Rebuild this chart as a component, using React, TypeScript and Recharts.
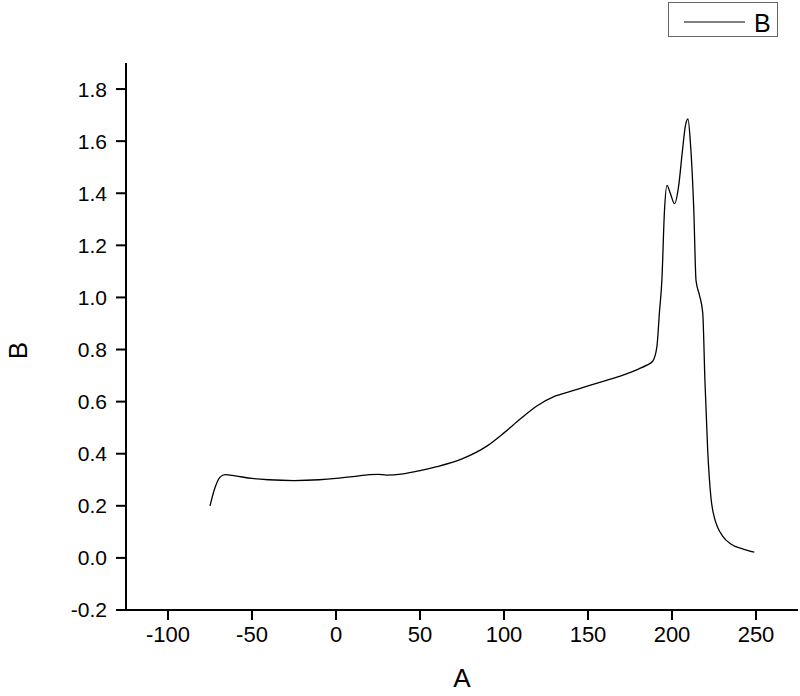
import React from 'react';
import { LineChart, Line, XAxis, YAxis, Legend } from 'recharts';

const aValues = [-75, -72, -69, -66, -60, -50, -40, -25, -10, 0, 10, 20, 25, 30, 40, 50, 60, 75, 90, 100, 110, 120, 130, 140, 150, 160, 170, 180, 185, 188.5, 191, 192.5, 194, 195.5, 197, 199, 201.5, 204, 206, 208, 209.5, 211, 213, 214.3, 216.3, 218.3, 219.6, 221.2, 223.2, 225, 227.2, 230, 235, 242, 249];
const bValues = [0.2, 0.27, 0.31, 0.32, 0.315, 0.305, 0.3, 0.297, 0.3, 0.305, 0.312, 0.32, 0.321, 0.318, 0.323, 0.335, 0.35, 0.38, 0.43, 0.48, 0.535, 0.585, 0.62, 0.64, 0.66, 0.68, 0.7, 0.725, 0.74, 0.755, 0.81, 0.94, 1.07, 1.33, 1.43, 1.4, 1.36, 1.43, 1.55, 1.66, 1.685, 1.59, 1.33, 1.065, 1.01, 0.94, 0.68, 0.42, 0.23, 0.16, 0.117, 0.085, 0.053, 0.035, 0.022];

const xMajorTicks = [-100, -50, 0, 50, 100, 150, 200, 250];
const xMinorTicks = [-125, -75, -25, 25, 75, 125, 175, 225, 275];
const yMajorTicks = [-0.2, 0, 0.2, 0.4, 0.6, 0.8, 1.0, 1.2, 1.4, 1.6, 1.8];
const yMinorTicks = [-0.1, 0.1, 0.3, 0.5, 0.7, 0.9, 1.1, 1.3, 1.5, 1.7, 1.9];

const data = aValues.map((a, i) => ({ A: a, B: bValues[i] }));

const FONT = '"Liberation Sans", Arial, sans-serif';

const LegendBox = () => (
  <div style={{ width: 108, height: 33, border: '1px solid #666', background: '#fff', position: 'relative', fontFamily: FONT, boxSizing: 'content-box' }}>
    <svg width={108} height={33} style={{ position: 'absolute', left: 0, top: 0 }}>
      <line x1={15} y1={19} x2={76} y2={19} stroke="#000" strokeWidth={1.2} />
      <text x={85} y={29} fontSize={25} fill="#000" fontFamily={FONT}>B</text>
    </svg>
  </div>
);

const YLabel = (props: any) => {
  const vb = props.viewBox || { x: 0, y: 63, width: 126, height: 547 };
  const x = vb.x + 27;
  const y = vb.y + vb.height / 2 + 14;
  return (
    <text x={x} y={y} transform={`rotate(-90 ${x} ${y})`} textAnchor="middle" fontSize={26} fill="#000" fontFamily={FONT}>B</text>
  );
};

export default function App() {
  return (
    <div style={{ position: 'absolute', left: 0, top: 0, background: '#fff' }}>
      <LineChart width={800} height={696} data={data} margin={{ top: 63, right: 2, bottom: 0, left: 0 }}>
        <XAxis xAxisId="minor" dataKey="A" type="number" domain={[-125, 275]} ticks={xMinorTicks} height={0} axisLine={false} tick={false} tickSize={6} stroke="#000" strokeWidth={2} allowDataOverflow />
        <XAxis dataKey="A" type="number" domain={[-125, 275]} ticks={xMajorTicks} height={86} tickSize={10} tickMargin={6} stroke="#000" strokeWidth={2} tick={{ fill: '#000', fontSize: 22, fontFamily: FONT }} allowDataOverflow interval={0}
          label={{ value: 'A', position: 'insideBottom', offset: 9, fontSize: 26, fill: '#000', fontFamily: FONT }} />
        <YAxis yAxisId="minor" type="number" domain={[-0.2, 1.9]} ticks={yMinorTicks} width={0} axisLine={false} tick={false} tickSize={6} stroke="#000" strokeWidth={2} allowDataOverflow />
        <YAxis type="number" domain={[-0.2, 1.9]} ticks={yMajorTicks} width={126} tickSize={10} tickMargin={9} stroke="#000" strokeWidth={2} interval={0}
          tick={{ fill: '#000', fontSize: 21, fontFamily: FONT }} tickFormatter={(v: number) => v.toFixed(1)} allowDataOverflow
          label={<YLabel />} />
        <Legend layout="horizontal" verticalAlign="middle" align="center" content={() => <LegendBox />} wrapperStyle={{ left: 668, top: 2, width: 110, height: 35 }} />
        <Line dataKey="B" type="monotone" stroke="#000" strokeWidth={1.3} dot={false} isAnimationActive={false} legendType="line" />
      </LineChart>
    </div>
  );
}
